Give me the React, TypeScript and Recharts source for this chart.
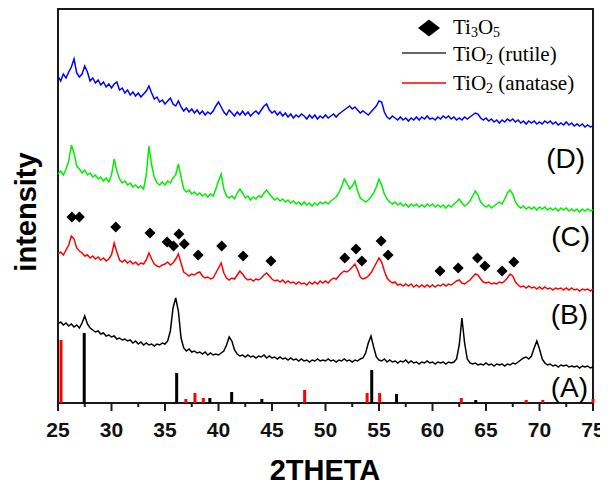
import React from "react";
import {
  ComposedChart,
  Line,
  Scatter,
  XAxis,
  YAxis,
  ReferenceLine,
  ReferenceArea,
} from "recharts";

// 2θ positions: 25 → 75 in 0.25° steps (201 points)
const twoTheta: number[] = Array.from({ length: 201 }, (_, i) => 25 + i * 0.25);

// (D) blue trace, one row per 5°
const blueIntensity: number[] = [
  327, 322, 329, 325, 331, 336, 344, 330, 326, 329, 337, 331, 322, 325, 320, 323, 318, 321, 316, 319,
  315, 319, 321, 313, 315, 310, 313, 308, 311, 307, 310, 306, 309, 312, 317, 310, 304, 306, 301, 303,
  299, 302, 305, 299, 297, 302, 296, 292, 295, 291, 294, 290, 293, 289, 292, 288, 291, 289, 292, 297,
  301, 296, 291, 288, 293, 290, 287, 291, 288, 292, 288, 291, 287, 290, 292, 289, 293, 297, 299, 293,
  290, 292, 288, 291, 287, 290, 286, 289, 285, 288, 286, 289, 287, 284, 288, 285, 288, 284, 287, 285,
  288, 285, 287, 289, 286, 289, 291, 293, 295, 297, 294, 296, 293, 290, 292, 290, 288, 291, 294, 297,
  302, 301, 291, 286, 284, 287, 285, 283, 286, 283, 285, 282, 285, 283, 286, 283, 286, 284, 287, 284,
  285, 283, 286, 284, 287, 285, 287, 284, 286, 283, 285, 283, 286, 284, 286, 288, 290, 289, 285, 283,
  285, 282, 284, 281, 283, 280, 283, 281, 284, 282, 284, 281, 283, 280, 282, 279, 282, 280, 282, 279,
  281, 279, 282, 280, 282, 279, 281, 278, 280, 278, 281, 278, 280, 277, 279, 277, 279, 276, 278, 276,
  277,
];

// green trace
const greenIntensity: number[] = [
  229, 232, 228, 234, 242, 258, 250, 237, 234, 230, 233, 228, 230, 226, 228, 224, 226, 222, 225, 221,
  228, 244, 232, 224, 220, 222, 218, 220, 216, 218, 215, 217, 214, 228, 257, 238, 226, 220, 218, 221,
  218, 222, 220, 225, 228, 239, 226, 214, 211, 213, 209, 211, 208, 210, 207, 209, 206, 209, 207, 214,
  222, 229, 214, 207, 205, 207, 204, 210, 214, 210, 205, 207, 203, 206, 204, 207, 206, 210, 213, 209,
  206, 203, 205, 202, 204, 201, 203, 200, 202, 199, 201, 198, 201, 198, 200, 197, 200, 198, 201, 199,
  201, 199, 202, 204, 206, 210, 216, 224, 220, 214, 217, 222, 212, 205, 203, 201, 203, 206, 210, 216,
  224, 218, 209, 204, 201, 199, 201, 198, 200, 197, 199, 196, 199, 197, 199, 196, 198, 196, 199, 197,
  199, 196, 198, 196, 198, 195, 198, 196, 199, 201, 204, 200, 197, 199, 202, 207, 212, 208, 201, 198,
  196, 198, 195, 197, 199, 201, 199, 204, 210, 213, 209, 201, 197, 195, 197, 194, 196, 194, 196, 193,
  196, 194, 196, 193, 195, 193, 195, 192, 195, 193, 195, 192, 194, 192, 194, 191, 194, 192, 194, 192,
  193,
];

// red trace
const redIntensity: number[] = [
  149, 151, 148, 153, 158, 167, 164, 155, 152, 150, 147, 148, 145, 147, 144, 146, 143, 145, 142, 144,
  148, 160, 151, 143, 141, 143, 140, 142, 139, 141, 138, 140, 139, 143, 150, 144, 139, 137, 136, 138,
  139, 141, 138, 140, 144, 149, 140, 131, 129, 127, 129, 128, 130, 131, 127, 125, 126, 124, 125, 130,
  135, 140, 130, 125, 123, 125, 124, 128, 132, 129, 125, 123, 124, 122, 124, 123, 125, 128, 130, 127,
  124, 122, 123, 121, 123, 120, 122, 120, 121, 119, 121, 119, 120, 118, 121, 119, 121, 119, 122, 120,
  122, 120, 123, 125, 124, 127, 130, 132, 131, 133, 136, 139, 133, 126, 124, 125, 127, 130, 135, 140,
  145, 141, 132, 125, 122, 120, 121, 118, 119, 117, 119, 117, 119, 116, 118, 116, 118, 116, 118, 116,
  118, 116, 118, 117, 119, 117, 119, 118, 120, 122, 123, 120, 119, 121, 123, 126, 129, 128, 124, 121,
  120, 121, 119, 120, 119, 121, 120, 122, 125, 129, 127, 121, 118, 116, 117, 115, 117, 115, 116, 114,
  116, 114, 116, 114, 115, 113, 115, 114, 115, 113, 115, 113, 115, 113, 114, 112, 114, 113, 114, 112,
  114,
];

// black trace
const blackIntensity: number[] = [
  79, 81, 78, 80, 77, 79, 76, 78, 75, 80, 87, 79, 75, 73, 71, 72, 69, 70, 67, 68,
  66, 67, 64, 65, 63, 64, 62, 63, 60, 62, 59, 61, 58, 60, 58, 59, 57, 59, 58, 60,
  59, 62, 72, 95, 105, 92, 65, 55, 52, 54, 51, 52, 50, 51, 49, 51, 48, 50, 48, 49,
  48, 50, 52, 58, 66, 62, 53, 49, 47, 48, 46, 48, 46, 47, 45, 47, 46, 48, 45, 47,
  45, 46, 44, 46, 44, 45, 43, 45, 43, 44, 42, 44, 42, 43, 41, 43, 42, 44, 42, 43,
  42, 44, 42, 43, 41, 43, 42, 44, 42, 43, 41, 43, 42, 44, 45, 50, 60, 67, 56, 46,
  43, 42, 44, 41, 43, 41, 42, 40, 42, 41, 43, 40, 42, 40, 41, 39, 41, 40, 42, 40,
  41, 39, 41, 40, 41, 39, 41, 40, 41, 44, 58, 85, 60, 44, 40, 39, 40, 38, 39, 38,
  40, 38, 39, 37, 39, 38, 39, 37, 39, 38, 40, 39, 41, 43, 45, 46, 44, 47, 55, 62,
  54, 44, 40, 38, 39, 37, 38, 36, 38, 37, 38, 36, 37, 36, 37, 35, 37, 36, 37, 35,
  36,
];

// reference stick patterns (A)
const rutilePos: number[] = [27.45, 36.09, 39.19, 41.23, 44.05, 54.32, 56.64, 64.04];
const rutileHeight: number[] = [70, 30, 5, 11, 4, 33, 9, 3];
const anatasePos: number[] = [25.28, 36.95, 37.8, 38.58, 48.05, 53.89, 55.06, 62.69, 68.76, 70.31, 75.0];
const anataseHeight: number[] = [63, 4, 10, 5, 13, 10, 10, 5, 3, 3, 4];

// Ti3O5 markers
const ti3o5Pos: number[] = [
  26.3, 27.0, 30.4, 33.6, 35.2, 35.8, 36.3, 36.8, 38.1, 40.3, 42.3, 44.9,
  51.8, 52.85, 53.4, 55.2, 55.85, 60.7, 62.4, 64.2, 64.9, 66.5, 67.6,
];
const ti3o5Level: number[] = [
  186, 186, 176, 170, 161, 157, 169, 159, 148, 157, 147, 142,
  145, 154, 142, 162, 148, 132, 135, 145, 137, 132, 141,
];

const xTicks: number[] = [
  25, 27.5, 30, 32.5, 35, 37.5, 40, 42.5, 45, 47.5, 50, 52.5, 55, 57.5, 60, 62.5, 65, 67.5, 70, 72.5, 75,
];

const tableData = twoTheta.map((x, i) => ({
  x,
  blue: blueIntensity[i],
  green: greenIntensity[i],
  red: redIntensity[i],
  black: blackIntensity[i],
}));

const markerData = ti3o5Pos.map((x, i) => ({ x, level: ti3o5Level[i] }));

const SANS = "'Liberation Sans', Arial, sans-serif";
const SERIF = "'Liberation Serif', 'Times New Roman', serif";

const XTick = (props: any) => {
  const { x, y, payload } = props;
  const v = payload.value as number;
  const major = v % 5 === 0;
  return (
    <g>
      <line x1={x} x2={x} y1={y} y2={y + (major ? 8 : 4)} stroke="#1a1a1a" strokeWidth={2} />
      {major && (
        <text
          x={x}
          y={y + 34}
          textAnchor="middle"
          fontFamily={SANS}
          fontWeight="bold"
          fontSize={21}
          fill="#111"
        >
          {v}
        </text>
      )}
    </g>
  );
};

const Diamond = (props: any) => {
  const { cx, cy } = props;
  if (cx == null || cy == null) return <g />;
  const w = 5.5;
  const h = 5.5;
  return (
    <polygon
      points={`${cx},${cy - h} ${cx + w},${cy} ${cx},${cy + h} ${cx - w},${cy}`}
      fill="#000"
    />
  );
};

export default function App() {
  return (
    <div style={{ position: "relative", width: 600, height: 480 }}>
      <ComposedChart
        width={600}
        height={480}
        data={tableData}
        margin={{ top: 1, right: 15, bottom: 0, left: 50 }}
      >
        <XAxis
          dataKey="x"
          type="number"
          domain={[25, 75]}
          ticks={xTicks}
          interval={0}
          axisLine={false}
          tickLine={false}
          tickSize={0}
          tickMargin={0}
          height={85}
          tick={<XTick />}
        />
        <YAxis type="number" domain={[0, 394]} hide width={0} allowDataOverflow />
        <ReferenceArea
          x1={25}
          x2={75}
          y1={0}
          y2={394}
          fill="none"
          stroke="#1a1a1a"
          strokeWidth={2}
          ifOverflow="visible"
        />
        {rutilePos.map((p, i) => (
          <ReferenceLine
            key={"r" + i}
            segment={[
              { x: p, y: 0 },
              { x: p, y: rutileHeight[i] },
            ]}
            stroke="#000"
            strokeWidth={3}
            ifOverflow="visible"
          />
        ))}
        {anatasePos.map((p, i) => (
          <ReferenceLine
            key={"a" + i}
            segment={[
              { x: p, y: 0 },
              { x: p, y: anataseHeight[i] },
            ]}
            stroke="#ff0000"
            strokeWidth={3}
            ifOverflow="visible"
          />
        ))}
        <Line type="linear" dataKey="blue" stroke="#0000ff" strokeWidth={1.5} dot={false} isAnimationActive={false} />
        <Line type="linear" dataKey="green" stroke="#00ee00" strokeWidth={1.5} dot={false} isAnimationActive={false} />
        <Line type="linear" dataKey="red" stroke="#ff0000" strokeWidth={1.5} dot={false} isAnimationActive={false} />
        <Line type="linear" dataKey="black" stroke="#000000" strokeWidth={1.5} dot={false} isAnimationActive={false} />
        <Scatter data={markerData} dataKey="level" shape={<Diamond />} isAnimationActive={false} />
      </ComposedChart>
      <svg
        width={600}
        height={480}
        style={{ position: "absolute", left: 0, top: 0, pointerEvents: "none" }}
      >
        {/* axis titles */}
        <text
          x={0}
          y={0}
          transform="translate(28,204) rotate(-90)"
          textAnchor="middle"
          fontFamily={SANS}
          fontWeight="bold"
          fontSize={29}
          fill="#000"
        >
          intensity
        </text>
        <text x={317} y={472} textAnchor="middle" fontFamily={SANS} fontWeight="bold" fontSize={29} fill="#000">
          2THETA
        </text>
        {/* sample labels */}
        <text x={577} y={160} textAnchor="end" fontFamily={SANS} fontSize={28} fill="#000">(D)</text>
        <text x={582} y={238} textAnchor="end" fontFamily={SANS} fontSize={28} fill="#000">(C)</text>
        <text x={580} y={316} textAnchor="end" fontFamily={SANS} fontSize={28} fill="#000">(B)</text>
        <text x={580} y={389} textAnchor="end" fontFamily={SANS} fontSize={28} fill="#000">(A)</text>
        {/* legend */}
        <polygon points="421,11.5 432,20 421,28.5 410,20" fill="#000" />
        <text x={445} y={26} fontFamily={SERIF} fontSize={21} fill="#000">
          Ti<tspan fontSize={14} dy={3}>3</tspan>
          <tspan dy={-3}>O</tspan>
          <tspan fontSize={14} dy={3}>5</tspan>
        </text>
        <line x1={394} x2={438} y1={45} y2={45} stroke="#333" strokeWidth={1.5} />
        <text x={445} y={53} fontFamily={SERIF} fontSize={21} fill="#000">
          TiO<tspan fontSize={14} dy={3}>2</tspan>
          <tspan dy={-3}> (rutile)</tspan>
        </text>
        <line x1={394} x2={438} y1={75} y2={75} stroke="#ff0000" strokeWidth={1.5} />
        <text x={445} y={82} fontFamily={SERIF} fontSize={21} fill="#000">
          TiO<tspan fontSize={14} dy={3}>2</tspan>
          <tspan dy={-3}> (anatase)</tspan>
        </text>
      </svg>
    </div>
  );
}
